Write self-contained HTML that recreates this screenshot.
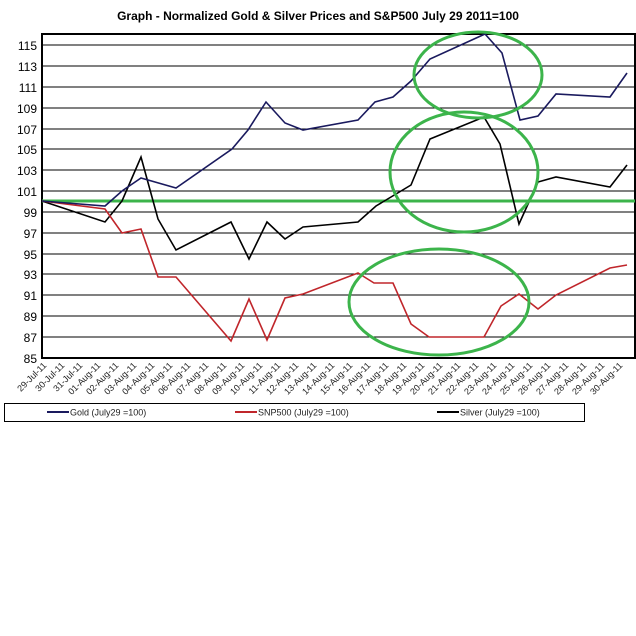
<!DOCTYPE html>
<html><head><style>body{margin:0;background:#fff}svg{display:block}</style></head><body>
<svg width="636" height="636" xmlns="http://www.w3.org/2000/svg" font-family="Liberation Sans, Arial, sans-serif">
<rect width="636" height="636" fill="#fff"/>
<text x="318" y="20" text-anchor="middle" font-size="12" font-weight="bold">Graph - Normalized Gold &amp; Silver Prices and S&amp;P500  July 29 2011=100</text>
<g stroke="#000" stroke-width="1">
<line x1="42" x2="635" y1="45" y2="45"/><line x1="42" x2="635" y1="66" y2="66"/><line x1="42" x2="635" y1="87" y2="87"/><line x1="42" x2="635" y1="108" y2="108"/><line x1="42" x2="635" y1="129" y2="129"/><line x1="42" x2="635" y1="149" y2="149"/><line x1="42" x2="635" y1="170" y2="170"/><line x1="42" x2="635" y1="191" y2="191"/><line x1="42" x2="635" y1="212" y2="212"/><line x1="42" x2="635" y1="233" y2="233"/><line x1="42" x2="635" y1="254" y2="254"/><line x1="42" x2="635" y1="274" y2="274"/><line x1="42" x2="635" y1="295" y2="295"/><line x1="42" x2="635" y1="316" y2="316"/><line x1="42" x2="635" y1="337" y2="337"/>
</g>
<rect x="42" y="34" width="593" height="324" fill="none" stroke="#000" stroke-width="2"/>
<g font-size="12" text-anchor="end">
<text x="37" y="50">115</text><text x="37" y="71">113</text><text x="37" y="92">111</text><text x="37" y="113">109</text><text x="37" y="134">107</text><text x="37" y="154">105</text><text x="37" y="175">103</text><text x="37" y="196">101</text><text x="37" y="217">99</text><text x="37" y="238">97</text><text x="37" y="259">95</text><text x="37" y="279">93</text><text x="37" y="300">91</text><text x="37" y="321">89</text><text x="37" y="342">87</text><text x="37" y="363">85</text>
</g>
<line x1="42" x2="635" y1="201" y2="201" stroke="#3cb44b" stroke-width="3"/>
<polyline fill="none" stroke="#000" stroke-width="1.6" points="42,201 105,222 122,201 141,157 158,219 176,250 231,222 249,259 267,222 285,239 303,227 358,222 376,206 411,185 430,139 484,117 500,144 519,224 538,182 556,177 610,187 627,165"/>
<polyline fill="none" stroke="#c0262b" stroke-width="1.6" points="42,201 105,209 122,233 141,229 158,277 176,277 231,341 249,299 267,340 285,298 303,294 358,273 374,283 393,283 411,324 429,337 484,337 501,306 519,294 538,309 556,295 610,268 627,265"/>
<polyline fill="none" stroke="#1a1a5e" stroke-width="1.6" points="42,201 105,206 122,191 141,178 176,188 232,149 248,130 266,102 285,123 303,130 358,120 375,102 393,97 411,81 430,59 485,34 502,53 520,120 538,116 556,94 610,97 627,73"/>
<g fill="none" stroke="#3cb44b" stroke-width="3">
<ellipse cx="478" cy="75" rx="64" ry="43"/>
<ellipse cx="464" cy="172" rx="74" ry="60"/>
<ellipse cx="439" cy="302" rx="90" ry="53"/>
</g>
<g font-size="9" fill="#222" text-anchor="end">
<text transform="translate(47,366) rotate(-45)">29-Jul-11</text><text transform="translate(65,366) rotate(-45)">30-Jul-11</text><text transform="translate(83,366) rotate(-45)">31-Jul-11</text><text transform="translate(101,366) rotate(-45)">01-Aug-11</text><text transform="translate(119,366) rotate(-45)">02-Aug-11</text><text transform="translate(137,366) rotate(-45)">03-Aug-11</text><text transform="translate(155,366) rotate(-45)">04-Aug-11</text><text transform="translate(173,366) rotate(-45)">05-Aug-11</text><text transform="translate(191,366) rotate(-45)">06-Aug-11</text><text transform="translate(209,366) rotate(-45)">07-Aug-11</text><text transform="translate(227,366) rotate(-45)">08-Aug-11</text><text transform="translate(245,366) rotate(-45)">09-Aug-11</text><text transform="translate(263,366) rotate(-45)">10-Aug-11</text><text transform="translate(281,366) rotate(-45)">11-Aug-11</text><text transform="translate(299,366) rotate(-45)">12-Aug-11</text><text transform="translate(317,366) rotate(-45)">13-Aug-11</text><text transform="translate(335,366) rotate(-45)">14-Aug-11</text><text transform="translate(353,366) rotate(-45)">15-Aug-11</text><text transform="translate(371,366) rotate(-45)">16-Aug-11</text><text transform="translate(389,366) rotate(-45)">17-Aug-11</text><text transform="translate(407,366) rotate(-45)">18-Aug-11</text><text transform="translate(425,366) rotate(-45)">19-Aug-11</text><text transform="translate(443,366) rotate(-45)">20-Aug-11</text><text transform="translate(461,366) rotate(-45)">21-Aug-11</text><text transform="translate(479,366) rotate(-45)">22-Aug-11</text><text transform="translate(497,366) rotate(-45)">23-Aug-11</text><text transform="translate(515,366) rotate(-45)">24-Aug-11</text><text transform="translate(533,366) rotate(-45)">25-Aug-11</text><text transform="translate(551,366) rotate(-45)">26-Aug-11</text><text transform="translate(569,366) rotate(-45)">27-Aug-11</text><text transform="translate(587,366) rotate(-45)">28-Aug-11</text><text transform="translate(605,366) rotate(-45)">29-Aug-11</text><text transform="translate(623,366) rotate(-45)">30-Aug-11</text>
</g>
<rect x="4.5" y="403.5" width="580" height="18" fill="#fff" stroke="#000"/>
<line x1="47" x2="69" y1="412" y2="412" stroke="#1a1a5e" stroke-width="2"/>
<line x1="235" x2="257" y1="412" y2="412" stroke="#c0262b" stroke-width="2"/>
<line x1="437" x2="459" y1="412" y2="412" stroke="#000" stroke-width="2"/>
<g font-size="9" fill="#222">
<text x="70" y="415.5">Gold (July29 =100)</text>
<text x="258" y="415.5">SNP500 (July29 =100)</text>
<text x="460" y="415.5">Silver (July29 =100)</text>
</g>
</svg>
</body></html>
